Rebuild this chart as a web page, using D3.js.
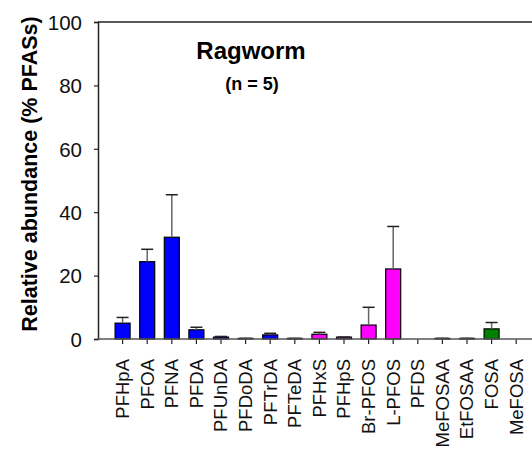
<!DOCTYPE html>
<html><head><meta charset="utf-8">
<script src="https://cdn.jsdelivr.net/npm/d3@7"></script>
<style>body{margin:0;background:#fff}svg{display:block}text{font-family:Arial,"Liberation Sans",sans-serif}</style>
</head><body><svg id="c" width="532" height="451"></svg>
<script>
const categories = ["PFHpA","PFOA","PFNA","PFDA","PFUnDA","PFDoDA","PFTrDA","PFTeDA","PFHxS","PFHpS","Br-PFOS","L-PFOS","PFDS","MeFOSAA","EtFOSAA","FOSA","MeFOSA"];
const means = [5.0,24.4,32.1,2.9,0.6,0.2,1.3,0.2,1.5,0.6,4.4,22.1,0,0.2,0.2,3.2,0];
const errors = [1.8,3.9,13.4,0.8,0.2,0,0.5,0,0.6,0,5.6,13.4,0,0,0,2.0,0];
const groups = ["carb","carb","carb","carb","carb","carb","carb","carb","sulf","sulf","sulf","sulf","sulf","prec","prec","prec","prec"];
const yTicks = [0,20,40,60,80,100];
const colorMap = {carb:"#0000ff", sulf:"#ff00ff", prec:"#008000"};

const svg = d3.select("#c");
const mLeft = 98, mTop = 22, mBottom = 339, step = 24.6;
const y = d3.scaleLinear().domain([0,100]).range([mBottom, mTop]);
const x = d3.scaleBand().domain(categories).range([mLeft + step/2, mLeft + step/2 + step*categories.length]).paddingInner(0.39).paddingOuter(0.195);

// frame line
svg.append("line").attr("x1",mLeft).attr("x2",532).attr("y1",mTop).attr("y2",mTop).attr("stroke","#222").attr("stroke-width",1.5);

// bars
svg.append("g").selectAll("rect").data(categories).join("rect")
  .attr("x", d => x(d))
  .attr("width", x.bandwidth())
  .attr("y", (d,i) => y(means[i]))
  .attr("height", (d,i) => mBottom - y(means[i]))
  .attr("fill", (d,i) => colorMap[groups[i]])
  .attr("stroke", "#000").attr("stroke-width", 1.2);

// error bars
const eg = svg.append("g");
categories.forEach((c,i) => {
  if (means[i] <= 0) return;
  const cx = x(c) + x.bandwidth()/2;
  const yt = y(means[i] + errors[i]);
  eg.append("line").attr("x1",cx).attr("x2",cx).attr("y1",y(means[i])).attr("y2",yt).attr("stroke","#666").attr("stroke-width",1.5);
  eg.append("line").attr("x1",cx-6).attr("x2",cx+6).attr("y1",yt).attr("y2",yt).attr("stroke","#222").attr("stroke-width",1.5);
});

// y axis
const ya = svg.append("g").attr("transform",`translate(${mLeft},0)`)
  .call(d3.axisLeft(y).tickValues(yTicks).tickSize(4).tickPadding(12));
ya.select(".domain").attr("stroke","#222").attr("stroke-width",1.5);
ya.selectAll(".tick line").attr("stroke","#222").attr("stroke-width",1.2);
ya.selectAll(".tick text").attr("font-size","20.5px").attr("fill","#111").attr("dy","0.36em");

// x axis
const xa = svg.append("g").attr("transform",`translate(0,${mBottom})`)
  .call(d3.axisBottom(x).tickSize(5).tickSizeOuter(0));
xa.select(".domain").remove();
svg.append("line").attr("x1",mLeft).attr("x2",532).attr("y1",mBottom).attr("y2",mBottom).attr("stroke","#555").attr("stroke-width",1.5);
xa.selectAll(".tick line").attr("stroke","#222").attr("stroke-width",1.2);
xa.selectAll(".tick text")
  .attr("font-size","18.5px").attr("fill","#111")
  .attr("text-anchor","end")
  .attr("transform","rotate(-90)")
  .attr("x",-20).attr("y",0).attr("dy","0.35em");

// titles
svg.append("text").attr("x",251).attr("y",59).attr("text-anchor","middle").attr("font-size","24px").attr("font-weight","bold").text("Ragworm");
svg.append("text").attr("x",252).attr("y",90).attr("text-anchor","middle").attr("font-size","18px").attr("font-weight","bold").text("(n = 5)");

// y label
svg.append("text").attr("transform","rotate(-90)").attr("x",-174).attr("y",37)
  .attr("text-anchor","middle").attr("font-size","21.5px").attr("font-weight","bold").text("Relative abundance (% PFASs)");
</script></body></html>
